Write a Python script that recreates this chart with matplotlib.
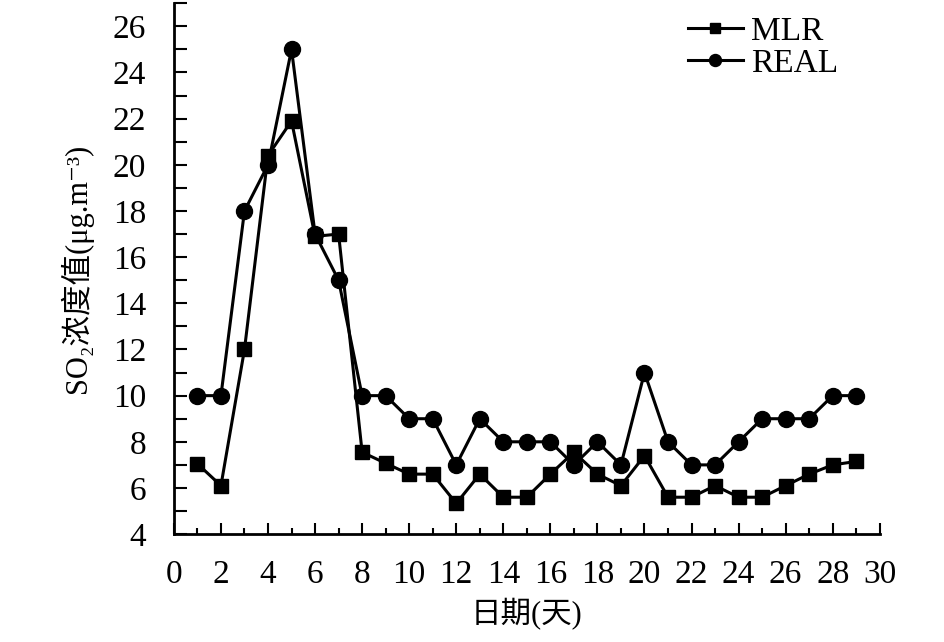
import matplotlib
matplotlib.use('Agg')
import matplotlib.pyplot as plt
from matplotlib.ticker import MultipleLocator

plt.rcParams['font.family'] = ['Liberation Serif', 'Noto Sans CJK SC', 'DejaVu Sans']

days = list(range(1, 30))
mlr = [7.05, 6.1, 12.0, 20.4, 21.9, 16.9, 17.0, 7.55, 7.07, 6.6, 6.6, 5.33, 6.6, 5.6, 5.6,
       6.6, 7.55, 6.6, 6.1, 7.4, 5.6, 5.6, 6.1, 5.6, 5.6, 6.1, 6.6, 7.0, 7.15]
real = [10, 10, 18, 20, 25, 17, 15, 10, 10, 9, 9, 7, 9, 8, 8, 8, 7, 8, 7, 11, 8, 7, 7, 8, 9,
        9, 9, 10, 10]

fig = plt.figure(figsize=(9.45, 6.42), dpi=100)
ax = fig.add_axes([0.184, 0.168, 0.747, 0.827])

ax.plot(days, mlr, color='black', lw=2.2, marker='s', markersize=10, label='MLR')
ax.plot(days, real, color='black', lw=2.2, marker='o', markersize=11.5, label='REAL')

ax.set_xlim(0, 30)
ax.set_ylim(4, 27)
ax.xaxis.set_major_locator(MultipleLocator(2))
ax.xaxis.set_minor_locator(MultipleLocator(1))
ax.yaxis.set_minor_locator(MultipleLocator(1))
ax.set_yticks(range(4, 27, 2))
ax.spines['top'].set_visible(False)
ax.spines['right'].set_visible(False)
for s in ('left', 'bottom'):
    ax.spines[s].set_linewidth(2)
ax.tick_params(axis='x', which='major', direction='in', length=8, width=1.5, labelsize=24, pad=18)
ax.tick_params(axis='x', which='minor', direction='in', length=4, width=1.5)
ax.tick_params(axis='y', which='both', direction='in', length=9, width=1.5, labelsize=24, pad=20)

ax.set_xlabel('日期(天)', fontsize=22, labelpad=6)
ax.set_ylabel('SO₂浓度值(μg.m⁻³)', fontsize=22, labelpad=14)

leg = ax.legend(loc='upper right', bbox_to_anchor=(0.96, 1.0), frameon=False, fontsize=24,
                handlelength=1.65, handletextpad=0.25, labelspacing=0.03, borderaxespad=0,
                markerscale=0.75)

fig.savefig('out.png', dpi=100)
